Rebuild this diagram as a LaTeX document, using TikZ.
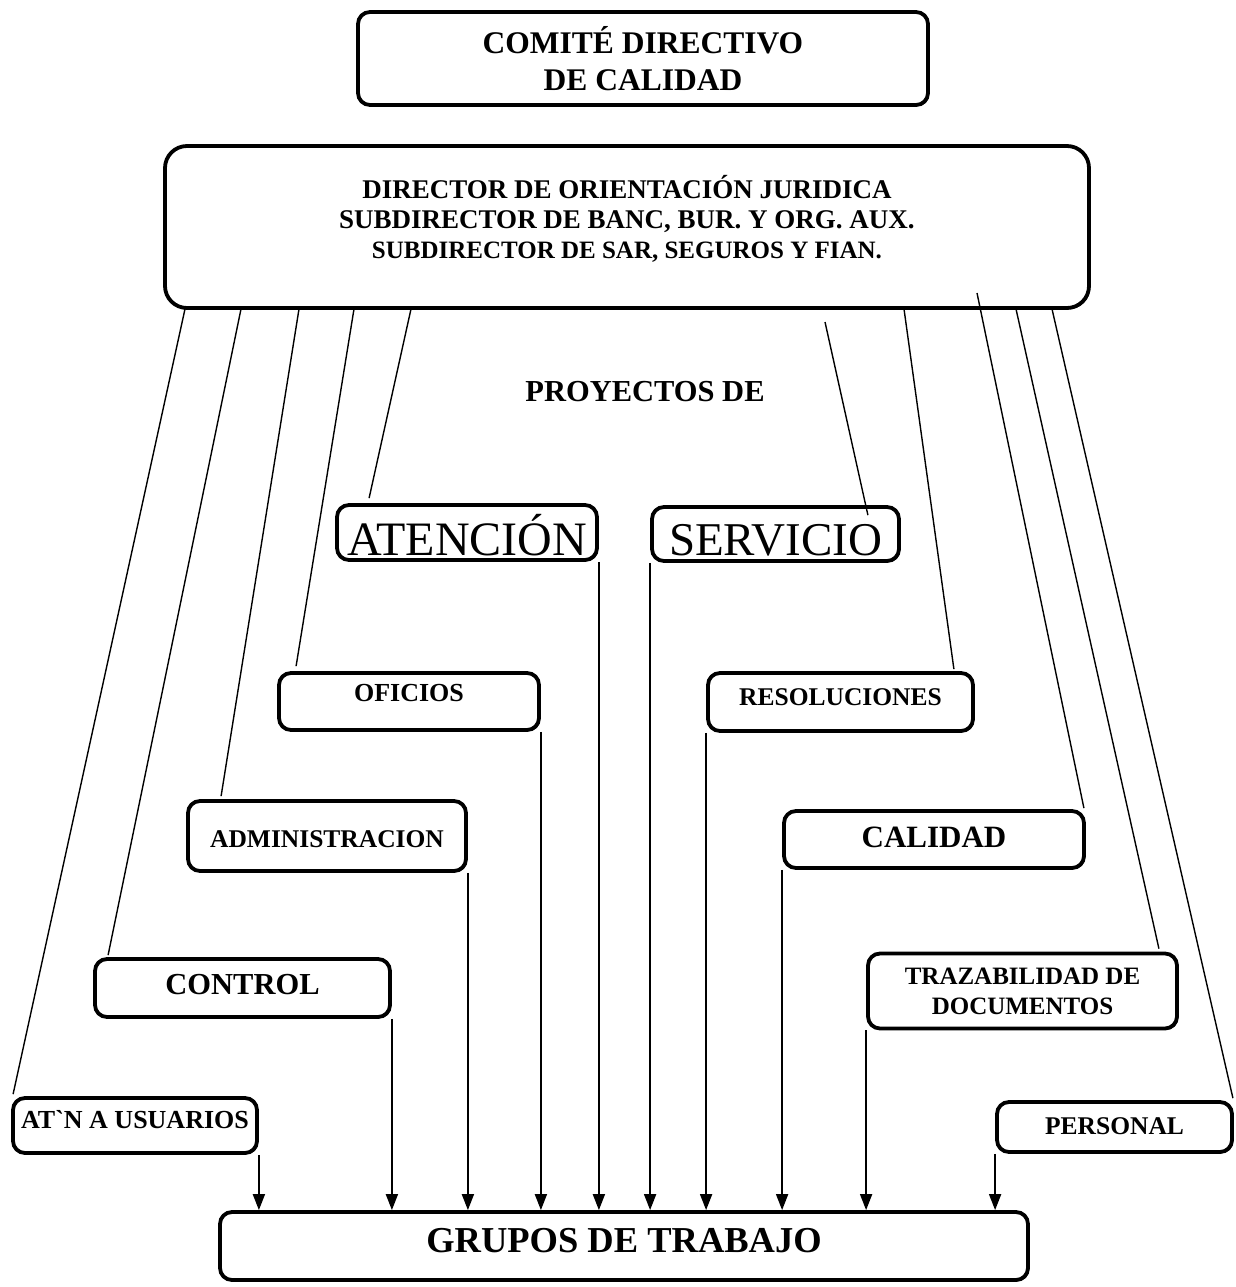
\documentclass[tikz,border=0pt]{standalone}
\usepackage{fontspec}
\setmainfont{Liberation Serif}
\usetikzlibrary{arrows.meta,shadows,calc}

% place a label with its baseline #1 above the middle of its box
\newcommand{\atbase}[2]{\raisebox{#1}[0pt][0pt]{#2}}
% plain grave accent, kept out of the TeX quote mapping
\newcommand{\gravemark}{\XeTeXglyph\XeTeXcharglyph"60\relax}

\tikzset{
  orgbox/.style={draw=black, line width=3.8pt, fill=white, rounded corners=12pt,
    inner sep=0pt, align=center, font=\bfseries,
    drop shadow={shadow xshift=1.3pt, shadow yshift=-1.3pt, opacity=1, fill=black}},
  link/.style={draw=black, line width=1.4pt},
  feed/.style={draw=black, line width=1.8pt, -{Triangle[width=12pt,length=16pt]}},
}

\begin{document}
\begin{tikzpicture}[x=1pt,y=-1pt]
\useasboundingbox (0,0) rectangle (1236,1287);

% --- top of the structure
\node[orgbox, minimum width=570, minimum height=93,
      font=\bfseries\fontsize{31.5}{37}\selectfont] (com) at (643,58.5)
  {COMITÉ DIRECTIVO\\DE CALIDAD};

\node[orgbox, minimum width=924, minimum height=162, rounded corners=22pt] (dir) at (627,227)
  {\atbase{5.5pt}{\parbox{900pt}{\centering\fontsize{27}{30}\selectfont
   DIRECTOR DE ORIENTACIÓN JURIDICA\\
   SUBDIRECTOR DE BANC, BUR. Y ORG. AUX.\\
   \fontsize{25}{30}\selectfont SUBDIRECTOR DE SAR, SEGUROS Y FIAN.}}};

\node[font=\bfseries\fontsize{30.5}{34}\selectfont] (proy) at (645,392) {PROYECTOS DE};

% --- project groups
\node[orgbox, minimum width=260, minimum height=55, font=\fontsize{48}{52}\selectfont] (aten) at (467,532.5) {\atbase{-23pt}{ATENCIÓN}};
\node[orgbox, minimum width=247, minimum height=54, font=\fontsize{47}{52}\selectfont] (serv) at (775.5,534) {\atbase{-21pt}{SERVICIO}};

\node[orgbox, minimum width=260, minimum height=57, font=\bfseries\fontsize{26}{30}\selectfont] (ofi) at (409,701.5) {\atbase{0pt}{OFICIOS}};
\node[orgbox, minimum width=265, minimum height=58, font=\bfseries\fontsize{25.5}{30}\selectfont] (res) at (840.5,702) {\atbase{-3pt}{RESOLUCIONES}};

\node[orgbox, minimum width=278, minimum height=70, font=\bfseries\fontsize{25.5}{30}\selectfont] (adm) at (327,836) {\atbase{-11pt}{ADMINISTRACION}};
\node[orgbox, minimum width=300, minimum height=57, font=\bfseries\fontsize{31}{36}\selectfont] (cal) at (934,839.5) {\atbase{-8pt}{CALIDAD}};

\node[orgbox, minimum width=295, minimum height=58, font=\bfseries\fontsize{30.5}{36}\selectfont] (ctl) at (242.5,988) {\atbase{-6pt}{CONTROL}};
\node[orgbox, minimum width=309, minimum height=75, font=\bfseries\fontsize{25}{30}\selectfont] (trz) at (1022.5,991) {TRAZABILIDAD DE\\DOCUMENTOS};

\node[orgbox, minimum width=244, minimum height=55, font=\bfseries\fontsize{26}{30}\selectfont] (atn) at (135,1125.5) {\atbase{-3pt}{AT\gravemark N A USUARIOS}};
\node[orgbox, minimum width=235, minimum height=50, font=\bfseries\fontsize{25.5}{30}\selectfont] (per) at (1114.5,1127) {\atbase{-7pt}{PERSONAL}};

\node[orgbox, minimum width=808, minimum height=68, font=\bfseries\fontsize{36.5}{40}\selectfont] (gru) at (624,1246) {\atbase{-6pt}{GRUPOS DE TRABAJO}};

% --- where the lines leave the director box
\coordinate (d1) at (185,309);
\coordinate (d2) at (241,309);
\coordinate (d3) at (299,309);
\coordinate (d4) at (354,309);
\coordinate (d5) at (411,309);
\coordinate (d6) at (825,322);
\coordinate (d7) at (904,309);
\coordinate (d8) at (977,293);
\coordinate (d9) at (1016,309);
\coordinate (d10) at (1052,309);

% --- lines from the director box to each project
\draw[link] (d1) -- ($(atn.north west)+(2,-2)$);
\draw[link] (d2) -- ($(ctl.north west)+(15,-2)$);
\draw[link] (d3) -- ($(adm.north west)+(35,-3)$);
\draw[link] (d4) -- ($(ofi.north west)+(19,-5)$);
\draw[link] (d5) -- ($(aten.north west)+(34,-5)$);
\draw[link] (d6) -- ($(serv.north east)+(-33,10)$);
\draw[link] (d7) -- ($(res.north east)+(-21,-2)$);
\draw[link] (d8) -- ($(cal.north east)+(-2,-1)$);
\draw[link] (d9) -- ($(trz.north east)+(-20,-3)$);
\draw[link] (d10) -- ($(per.north east)+(-1,-2)$);

% --- arrows down to the working groups
\draw[feed] (atn.south east) -- (atn.south east |- gru.north);
\draw[feed] (ctl.south east) -- (ctl.south east |- gru.north);
\draw[feed] (adm.south east) -- (adm.south east |- gru.north);
\draw[feed] (ofi.south east) -- (ofi.south east |- gru.north);
\draw[feed] (aten.south east) -- (aten.south east |- gru.north);
\draw[feed] (serv.south west) -- (serv.south west |- gru.north);
\draw[feed] (res.south west) -- (res.south west |- gru.north);
\draw[feed] (cal.south west) -- (cal.south west |- gru.north);
\draw[feed] (trz.south west) -- (trz.south west |- gru.north);
\draw[feed] (per.south west) -- (per.south west |- gru.north);
\end{tikzpicture}
\end{document}
